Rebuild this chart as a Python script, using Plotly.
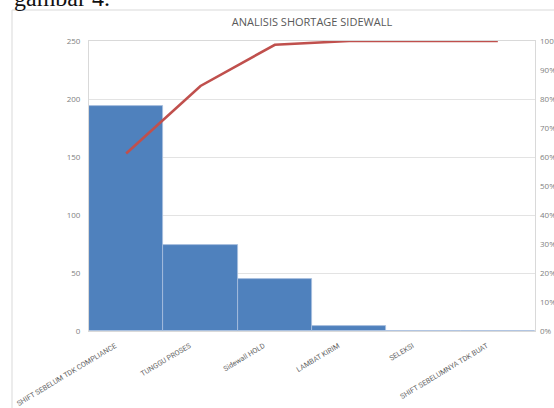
import plotly.graph_objects as go

categories = ["SHIFT SEBELUM TDK COMPLIANCE", "TUNGGU PROSES", "Sidewall HOLD",
              "LAMBAT KIRIM", "SELEKSI", "SHIFT SEBELUMNYA TDK BUAT"]
counts = [194, 74, 45, 4, 0, 0]
cum_pct = [0.612, 0.845, 0.987, 1.0, 1.0, 1.0]
left_ticks = [0, 50, 100, 150, 200, 250]
right_ticks = [i / 10 for i in range(11)]

fig = go.Figure()
fig.add_trace(go.Bar(x=categories, y=counts, marker=dict(color="#4f81bd",
                     line=dict(color="#a9c0de", width=0.8)), width=1.0))
fig.add_trace(go.Scatter(x=categories, y=cum_pct, yaxis="y2", mode="lines",
                         line=dict(color="#c0504d", width=2.6)))

tickfont = dict(family="Open Sans, Arial", size=8, color="#7f7f7f")
xtickfont = dict(family="Roboto, Open Sans", size=7.2, color="#666666")
fig.update_layout(
    width=554, height=408,
    margin=dict(l=89, r=19, t=41, b=77),
    paper_bgcolor="white", plot_bgcolor="white",
    showlegend=False,
    bargap=0,
    title=dict(text="ANALISIS SHORTAGE SIDEWALL", x=0.5, xanchor="center",
               y=1 - 22 / 408, yanchor="middle", xref="paper",
               font=dict(family="Open Sans, Arial", size=11, color="#595959")),
    xaxis=dict(tickangle=-31, tickfont=xtickfont, showgrid=False, automargin=False,
               showline=True, linecolor="#d9d9d9", linewidth=1, mirror=True,
               ticks="", ticklabelstandoff=7, ticklabelshift=-11),
    yaxis=dict(range=[0, 250], tickvals=left_ticks, tickfont=tickfont, automargin=False,
               showgrid=True, gridcolor="#e3e3e3", gridwidth=1,
               showline=True, linecolor="#d9d9d9", mirror=True,
               zeroline=False, ticks="", ticklabelstandoff=6),
    yaxis2=dict(range=[0, 1], tickvals=right_ticks, tickformat=".0%", automargin=False,
                overlaying="y", side="right", tickfont=tickfont,
                showgrid=False, zeroline=False, ticks="", ticklabelstandoff=4),
)

# document frame and caption around the chart
fig.add_shape(type="line", xref="paper", yref="paper",
              x0=(12 - 89) / 446, x1=1.2, y0=(331 - 10) / 290, y1=(331 - 10) / 290,
              line=dict(color="#d9d9d9", width=1))
fig.add_shape(type="line", xref="paper", yref="paper",
              x0=(12 - 89) / 446, x1=(12 - 89) / 446, y0=(331 - 10) / 290, y1=-0.5,
              line=dict(color="#d9d9d9", width=1))
fig.add_annotation(text="gambar 4.", xref="paper", yref="paper",
                   x=(12 - 89) / 446, xanchor="left",
                   y=(331 - 13) / 290, yanchor="bottom", showarrow=False,
                   font=dict(family="Liberation Serif, DejaVu Serif", size=24, color="#111111"))

fig.write_html("out.html")
